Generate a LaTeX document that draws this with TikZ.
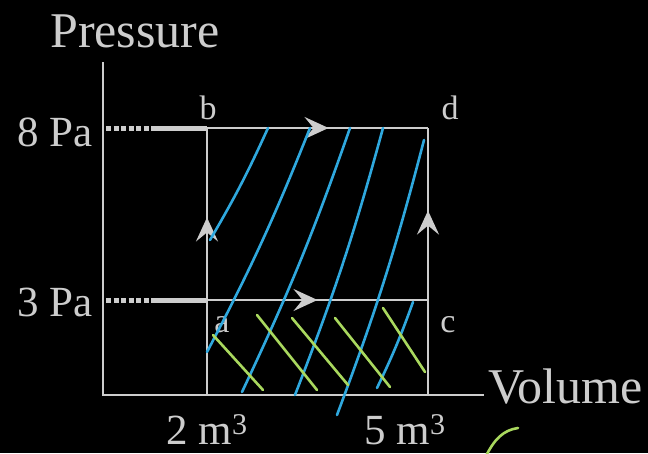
\documentclass[tikz,border=0pt]{standalone}
\usepackage{fontspec}
\setmainfont{Liberation Serif}
\usetikzlibrary{arrows.meta,decorations.markings}
\definecolor{ink}{HTML}{CDCDCD}
\definecolor{pen}{HTML}{2FA8DE}
\definecolor{hl}{HTML}{A9D85E}

\begin{document}
\begin{tikzpicture}[
  x=1pt, y=-1pt,
  axis/.style={draw=ink, line width=2.6pt},
  edge/.style={draw=ink, line width=2.6pt},
  lead/.style={draw=ink, line width=5pt},
  lbl/.style={text=ink, inner sep=0pt, font=\fontsize{34}{34}\selectfont},
  tick/.style={text=ink, inner sep=0pt, font=\fontsize{43}{43}\selectfont},
  ttl/.style={text=ink, inner sep=0pt, font=\fontsize{50}{50}\selectfont},
  mid/.style={postaction={decorate}, decoration={markings,
      mark=at position #1 with {\arrow{Stealth[length=24pt,width=22pt,inset=9pt]}}}},
  stroke/.style={draw=pen, line width=2.6pt, line cap=round},
  hatch/.style={draw=hl, line width=2.6pt, line cap=round}
]
\fill[black] (0,0) rectangle (648,453);
\useasboundingbox (0,0) rectangle (648,453);

% ---------- AXES ----------
\coordinate (O) at (103,395);
\coordinate (ytop) at (103,62);
\coordinate (xend) at (484,395);
\draw[axis] (ytop) -- (O) -- (xend);

% ---------- CYCLE ----------
\coordinate (a) at (207,300);
\coordinate (b) at (207,128);
\coordinate (c) at (428,300);
\coordinate (d) at (428,128);
\coordinate (a0) at (207,395);
\coordinate (c0) at (428,395);
\coordinate (p8) at (106,128);
\coordinate (p8s) at (155,128);
\coordinate (p3) at (106,300);
\coordinate (p3s) at (155,300);

\draw[lead, dash pattern=on 5pt off 2.5pt] (p8) -- (p8s);
\draw[lead] (p8s) -- (b);
\draw[lead, dash pattern=on 5pt off 2.5pt] (p3) -- (p3s);
\draw[lead] (p3s) -- (a);

\draw[edge, mid=0.48] (a) -- (b);
\draw[edge, mid=0.55] (b) -- (d);
\draw[edge, mid=0.52] (c) -- (d);
\draw[edge, mid=0.50] (a) -- (c);
\draw[edge] (a) -- (a0);
\draw[edge] (c) -- (c0);

% ---------- LABELS ----------
\node[lbl, anchor=base] (lb) at (208,119) {b};
\node[lbl, anchor=base] (ld) at (450,119) {d};
\node[lbl, anchor=base] (la) at (222,332) {a};
\node[lbl, anchor=base] (lc) at (448,332) {c};
\node[tick, anchor=base east] (l8) at (93,146) {8 Pa};
\node[tick, anchor=base east] (l3) at (93,316) {3 Pa};
\node[tick, anchor=base] (l2) at (207,444) {2 m\textsuperscript{3}};
\node[tick, anchor=base] (l5) at (405,444) {5 m\textsuperscript{3}};
\node[ttl, anchor=base] (ly) at (135,47) {Pressure};
\node[ttl, anchor=base west] (lx) at (488,403) {Volume};

% ---------- PEN MARKS ----------
\draw[stroke] (210,240) to[bend right=3] (268,128);
\draw[stroke] (207,352) to[bend right=3] (310,128);
\draw[stroke] (242,392) to[bend right=3] (350,128);
\draw[stroke] (295,395) to[bend right=3] (383,128);
\draw[stroke] (337,415) to[bend right=3] (424,140);
\draw[stroke] (377,388) to[bend right=3] (413,302);

\draw[hatch] (213,335) -- (263,390);
\draw[hatch] (257,315) -- (317,390);
\draw[hatch] (292,318) -- (348,385);
\draw[hatch] (335,318) -- (390,387);
\draw[hatch] (383,308) -- (425,372);
\draw[hatch] (486,456) .. controls (494,440) and (503,430) .. (518,428);

\end{tikzpicture}
\end{document}
